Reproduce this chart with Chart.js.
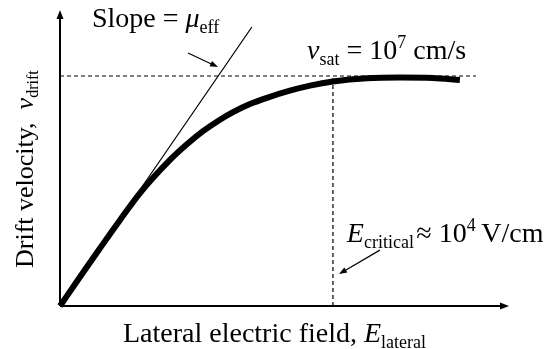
<!DOCTYPE html>
<html>
<head>
<meta charset="utf-8">
<script src="https://cdn.jsdelivr.net/npm/chart.js@4/dist/chart.umd.min.js"></script>
<style>
  html, body { margin: 0; padding: 0; background: #fff; }
</style>
</head>
<body>
<canvas id="driftChart" width="544" height="349"></canvas>
<script>
// Field in units of E_critical, velocity in units of v_sat
const fieldValues = [0, 0.073, 0.147, 0.220, 0.293, 0.403, 0.465, 0.524, 0.586, 0.634, 0.696, 0.758, 0.842, 0.916, 1.0, 1.125, 1.245, 1.366, 1.465];
const driftValues = [0, 0.126, 0.252, 0.374, 0.491, 0.635, 0.703, 0.760, 0.810, 0.843, 0.878, 0.905, 0.936, 0.958, 0.976, 0.990, 0.993, 0.991, 0.983];

// low-field tangent (slope = mobility)
const tangentField = [0, 0.703];
const tangentDrift = [0, 1.213];

const satLevel = 1;      // v_sat
const satLineEnd = 1.524;
const critField = 1;     // E_critical
const fieldMax = 1.645;
const driftMax = 1.287;

// labels: [x, y] anchor in data units, then text runs
const labelSlope = { at: [0.117, 1.213], parts: [
  { text: 'Slope = ' }, { text: 'μ', italic: true }, { text: 'eff', sub: true }] };
const labelSat = { at: [0.905, 1.074], parts: [
  { text: 'v', italic: true }, { text: 'sat', sub: true }, { text: ' = 10' }, { text: '7', sup: true }, { text: ' cm/s' }] };
const labelCrit = { at: [1.051, 0.278], parts: [
  { text: 'E', italic: true }, { text: 'critical', sub: true }, { text: '\u200a≈ 10' }, { text: '4', sup: true }, { text: '\u2009V/cm' }] };
const xTitle = [{ text: 'Lateral electric field, ' }, { text: 'E', italic: true }, { text: 'lateral', sub: true }];
const yTitle = [{ text: 'Drift velocity,  ' }, { text: 'v', italic: true }, { text: 'drift', sub: true }];

// pointer arrows: [fromX, fromY, toX, toY]
const slopeArrow = [0.469, 1.100, 0.579, 1.039];
const critArrow = [1.172, 0.243, 1.022, 0.139];

const toPoints = (xs, ys) => xs.map((x, i) => ({ x: x, y: ys[i] }));

function drawRich(ctx, parts, x, y, size) {
  size = size || 28;
  const smallSize = Math.round(size * 0.63);
  parts.forEach(p => {
    const small = p.sub || p.sup;
    ctx.font = (p.italic ? 'italic ' : '') + (small ? smallSize : size) + 'px "Liberation Serif"';
    const dy = p.sub ? size * 0.21 : (p.sup ? -size * 0.39 : 0);
    ctx.fillText(p.text, x, y + dy);
    x += ctx.measureText(p.text).width;
  });
}

function arrowHead(ctx, x0, y0, x1, y1, len, half) {
  const a = Math.atan2(y1 - y0, x1 - x0);
  ctx.beginPath();
  ctx.moveTo(x1, y1);
  ctx.lineTo(x1 - len * Math.cos(a) + half * Math.sin(a), y1 - len * Math.sin(a) - half * Math.cos(a));
  ctx.lineTo(x1 - len * Math.cos(a) - half * Math.sin(a), y1 - len * Math.sin(a) + half * Math.cos(a));
  ctx.closePath();
  ctx.fill();
}

const decorations = {
  id: 'decorations',
  afterDatasetsDraw(chart) {
    const ctx = chart.ctx;
    const xs = chart.scales.x, ys = chart.scales.y;
    const px = v => xs.getPixelForValue(v);
    const py = v => ys.getPixelForValue(v);
    ctx.save();
    ctx.strokeStyle = '#000';
    ctx.fillStyle = '#000';

    // axes with arrow tips
    const ox = px(0), oy = py(0);
    ctx.lineWidth = 2;
    ctx.beginPath();
    ctx.moveTo(ox, oy); ctx.lineTo(px(fieldMax) - 6, oy);
    ctx.moveTo(ox, oy); ctx.lineTo(ox, py(driftMax) + 6);
    ctx.stroke();
    arrowHead(ctx, ox, oy, px(fieldMax), oy, 9, 3.5);
    arrowHead(ctx, ox, oy, ox, py(driftMax), 9, 3.5);

    // pointers
    ctx.lineWidth = 1.2;
    [slopeArrow, critArrow].forEach(a => {
      const x0 = px(a[0]), y0 = py(a[1]), x1 = px(a[2]), y1 = py(a[3]);
      ctx.beginPath();
      ctx.moveTo(x0, y0);
      ctx.lineTo(x1 + (x0 - x1) * 0.15, y1 + (y0 - y1) * 0.15);
      ctx.stroke();
      arrowHead(ctx, x0, y0, x1, y1, 8, 3);
    });

    // text
    ctx.textBaseline = 'alphabetic';
    [labelSlope, labelSat, labelCrit].forEach(l => drawRich(ctx, l.parts, px(l.at[0]), py(l.at[1])));
    drawRich(ctx, xTitle, 123, 342);
    ctx.translate(33, 268);
    ctx.rotate(-Math.PI / 2);
    drawRich(ctx, yTitle, 0, 0, 26);
    ctx.restore();
  }
};

new Chart(document.getElementById('driftChart'), {
  type: 'line',
  data: {
    datasets: [
      {
        data: toPoints(fieldValues, driftValues),
        borderColor: '#000',
        borderWidth: 6,
        borderCapStyle: 'butt',
        cubicInterpolationMode: 'monotone',
        pointRadius: 0,
        clip: false
      },
      {
        data: toPoints(tangentField, tangentDrift),
        borderColor: '#000',
        borderWidth: 1.2,
        pointRadius: 0
      },
      {
        data: [{ x: 0, y: satLevel }, { x: satLineEnd, y: satLevel }],
        borderColor: '#000',
        borderWidth: 1.2,
        borderDash: [4, 3],
        pointRadius: 0
      },
      {
        data: [{ x: critField, y: 0 }, { x: critField, y: satLevel }],
        borderColor: '#000',
        borderWidth: 1.2,
        borderDash: [4, 3],
        pointRadius: 0
      }
    ]
  },
  options: {
    responsive: false,
    devicePixelRatio: 1,
    animation: false,
    layout: { padding: { left: 60, right: 35, top: 10, bottom: 43 } },
    plugins: { legend: { display: false }, tooltip: { enabled: false } },
    scales: {
      x: { type: 'linear', display: false, min: 0, max: fieldMax },
      y: { type: 'linear', display: false, min: 0, max: driftMax }
    }
  },
  plugins: [decorations]
});
</script>
</body>
</html>
